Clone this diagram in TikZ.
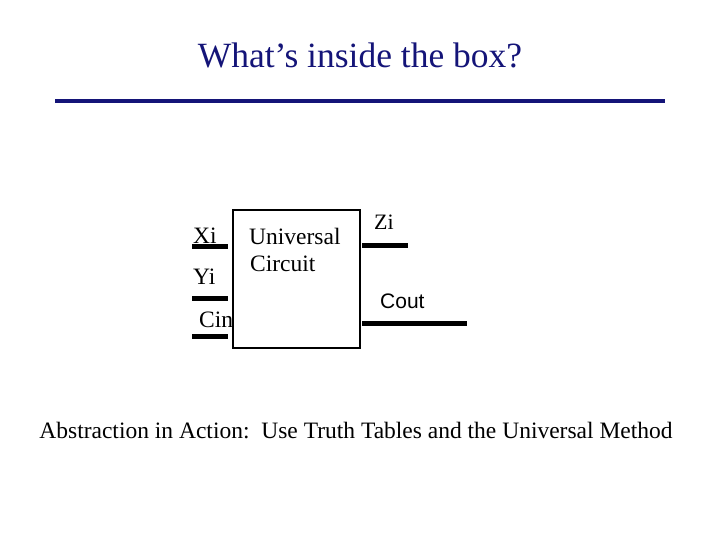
\documentclass[tikz,border=0pt]{standalone}
\usepackage{fontspec}
\setmainfont{Liberation Serif}
\newfontfamily\arialf{Liberation Sans}
\definecolor{navy}{RGB}{20,20,120}
\begin{document}
\begin{tikzpicture}[x=1pt,y=-1pt,
  pin/.style={line width=5pt},
  lbl/.style={font=\fontsize{23.5}{26}\selectfont, inner sep=0pt}]
\useasboundingbox (0,0) rectangle (720,540);
\node[font=\fontsize{35.5}{40}\selectfont, text=navy] (title) at (360,55) {What’s inside the box?};
\coordinate (l1) at (55,101); \coordinate (l2) at (665,101);
\draw[line width=4.5pt, navy] (l1) -- (l2);
\node[draw, line width=2.5pt, minimum width=127pt, minimum height=138pt, inner sep=0pt] (box) at (296.5,279) {};
\node[lbl, anchor=west] (u1) at (249,236) {Universal};
\node[lbl, anchor=west] (u2) at (250,264) {Circuit};
\node[lbl, anchor=west] (xi) at (193,236) {Xi};
\node[lbl, anchor=west] (yi) at (193,277) {Yi};
\node[lbl, anchor=west] (cin) at (199,320) {Cin};
\node[lbl, anchor=west, font=\fontsize{22}{24}\selectfont] (zi) at (374,222) {Zi};
\node[lbl, anchor=west, font=\arialf\fontsize{21}{24}\selectfont] (cout) at (380,301) {Cout};
\coordinate (a1) at (192,246); \coordinate (a2) at (228,246);
\coordinate (b1) at (192,298); \coordinate (b2) at (228,298);
\coordinate (c1) at (192,336); \coordinate (c2) at (228,336);
\coordinate (d1) at (362,245); \coordinate (d2) at (408,245);
\coordinate (e1) at (362,323); \coordinate (e2) at (467,323);
\draw[pin] (a1) -- (a2);
\draw[pin] (b1) -- (b2);
\draw[pin] (c1) -- (c2);
\draw[pin] (d1) -- (d2);
\draw[pin] (e1) -- (e2);
\node[lbl] (bottom) at (356,431) {Abstraction in Action:\ \ Use Truth Tables and the Universal Method};
\end{tikzpicture}
\end{document}
